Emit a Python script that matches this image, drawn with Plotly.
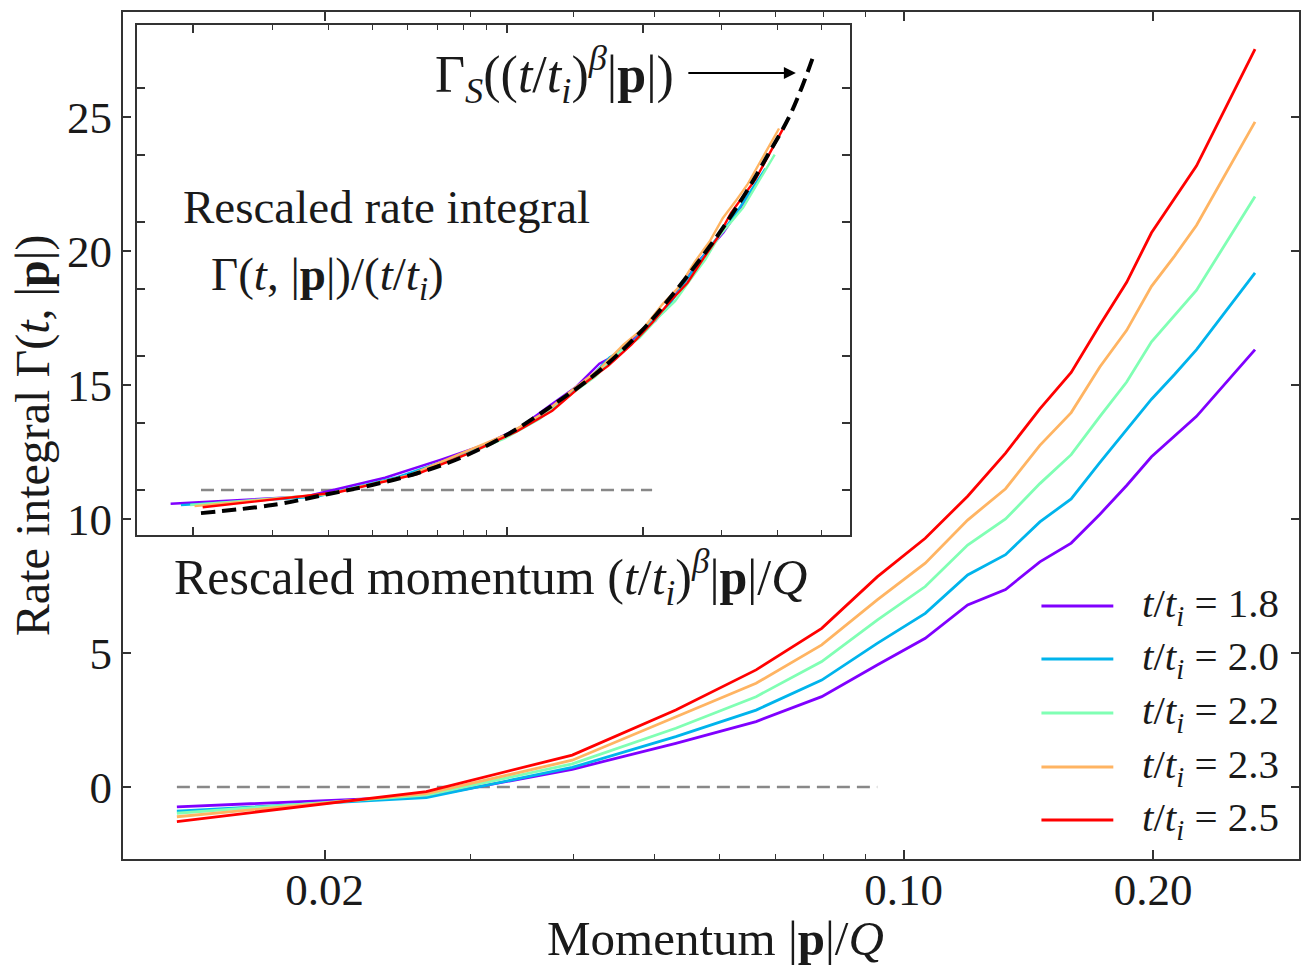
import numpy as np
import plotly.graph_objects as go

# ---------------- data ----------------
momentum = [0.01327, 0.02654, 0.03981, 0.05308, 0.06635, 0.07962, 0.09289,
            0.10616, 0.11943, 0.1327, 0.14597, 0.15924, 0.17251, 0.18578,
            0.19905, 0.21232, 0.22559, 0.2654]
t_values = [1.8, 2.0, 2.2, 2.3, 2.5]
gamma_t18 = [-0.74, -0.35, 0.66, 1.63, 2.44, 3.37, 4.55, 5.55, 6.79, 7.37,
             8.40, 9.10, 10.18, 11.25, 12.32, 13.10, 13.83, 16.32]
gamma_t20 = [-0.90, -0.40, 0.73, 1.88, 2.87, 3.99, 5.36, 6.48, 7.91, 8.67,
             9.89, 10.75, 12.11, 13.32, 14.47, 15.40, 16.32, 19.18]
gamma_t22 = [-0.98, -0.30, 0.86, 2.19, 3.37, 4.68, 6.23, 7.48, 9.03, 10.00,
             11.32, 12.40, 13.83, 15.11, 16.61, 17.61, 18.54, 22.03]
gamma_t23 = [-1.11, -0.25, 1.00, 2.62, 3.87, 5.30, 6.98, 8.35, 9.96, 11.13,
             12.75, 13.97, 15.68, 17.04, 18.68, 19.82, 20.96, 24.82]
gamma_t25 = [-1.29, -0.17, 1.19, 2.87, 4.37, 5.92, 7.84, 9.28, 10.85, 12.46,
             14.11, 15.47, 17.25, 18.83, 20.68, 21.96, 23.18, 27.53]
gamma_series = [gamma_t18, gamma_t20, gamma_t22, gamma_t23, gamma_t25]
beta = 0.5

# scaling function Gamma_S (black dashed curve in the inset)
scaling_x = [0.0208, 0.030, 0.040, 0.050, 0.063, 0.080, 0.101, 0.128, 0.160,
             0.200, 0.241, 0.296, 0.339, 0.382, 0.424, 0.453, 0.481]
scaling_y = [-0.69, -0.45, -0.12, 0.15, 0.50, 1.00, 1.69, 2.59, 3.55,
             4.78, 6.07, 7.66, 8.86, 10.05, 11.14, 12.04, 12.99]

# horizontal zero reference lines
zero_main_x = [0.01327, 0.0929]
zero_inset_x = [0.0208, 0.21]

colors = ['#8000ff', '#00b4ec', '#80ffb4', '#ffb462', '#ff0000']

# ---------------- figure ----------------
FONT = 'Liberation Serif'
TXT = '#1a1a1a'
AX = '#333333'

fig = go.Figure()

# main panel
fig.add_trace(go.Scatter(x=zero_main_x, y=[0, 0], mode='lines',
                         line=dict(color='#888888', width=2.5, dash='13px,7px'),
                         xaxis='x', yaxis='y', showlegend=False, hoverinfo='skip'))
for t, g, c in zip(t_values, gamma_series, colors):
    fig.add_trace(go.Scatter(x=momentum, y=g, mode='lines',
                             line=dict(color=c, width=2.8),
                             name=f't/t_i = {t}', xaxis='x', yaxis='y',
                             showlegend=False))

# inset panel
fig.add_trace(go.Scatter(x=zero_inset_x, y=[0, 0], mode='lines',
                         line=dict(color='#888888', width=2.5, dash='13px,7px'),
                         xaxis='x2', yaxis='y2', showlegend=False, hoverinfo='skip'))
for t, g, c in zip(t_values, gamma_series, colors):
    xs = [p * t ** beta for p in momentum]
    ys = [v / t for v in g]
    fig.add_trace(go.Scatter(x=xs, y=ys, mode='lines',
                             line=dict(color=c, width=2.4),
                             xaxis='x2', yaxis='y2', showlegend=False))
fig.add_trace(go.Scatter(x=scaling_x, y=scaling_y, mode='lines',
                         line=dict(color='black', width=4, dash='14px,7px', shape='spline'),
                         xaxis='x2', yaxis='y2', showlegend=False))

# geometry (pixels)
W, H = 1301, 965
L, T, R, B = 123, 12, 0, 106
PW, PH = W - L - R, H - T - B


def px2x(px):
    return (px - L) / PW


def py2y(py):
    return (H - B - py) / PH


tickfont = dict(family=FONT, size=45, color=TXT)

fig.update_layout(
    width=W, height=H,
    margin=dict(l=L, r=R, t=T, b=B),
    paper_bgcolor='white', plot_bgcolor='white',
    font=dict(family=FONT, color=TXT),
    showlegend=False,
    xaxis=dict(type='log', range=[np.log10(0.011425), np.log10(0.2999)],
               domain=[0, 1], anchor='y',
               tickmode='array', tickvals=[0.02, 0.1, 0.2],
               ticktext=['0.02', '0.10', '0.20'],
               ticks='inside', ticklen=9, tickwidth=1.5, tickcolor=AX,
               showline=True, linecolor=AX, linewidth=2, mirror='ticks',
               showgrid=False, zeroline=False, tickfont=tickfont,
               ticklabelstandoff=-10,
               minor=dict(tickmode='array',
                          tickvals=[0.03, 0.04, 0.05, 0.06, 0.07, 0.08, 0.09],
                          ticks='inside', ticklen=5, tickwidth=1.2,
                          tickcolor=AX, showgrid=False)),
    yaxis=dict(range=[-2.687, 28.918], domain=[0, 1], anchor='x',
               tickmode='array', tickvals=[0, 5, 10, 15, 20, 25],
               ticks='inside', ticklen=8, tickwidth=1.5, tickcolor=AX,
               showline=True, linecolor=AX, linewidth=2, mirror='ticks',
               showgrid=False, zeroline=False, tickfont=tickfont,
               ticklabelstandoff=0),
    xaxis2=dict(type='log', range=[-1.8244, -0.2378],
                domain=[px2x(137), px2x(851)], anchor='y2',
                tickmode='array', tickvals=[0.02, 0.1, 0.2],
                showticklabels=False,
                ticks='inside', ticklen=8, tickwidth=1.5, tickcolor=AX,
                showline=True, linecolor=AX, linewidth=2, mirror='ticks',
                showgrid=False, zeroline=False,
                minor=dict(tickmode='array',
                           tickvals=[0.03, 0.04, 0.05, 0.06, 0.07, 0.08, 0.09,
                                     0.3, 0.4, 0.5],
                           ticks='inside', ticklen=5, tickwidth=1.2,
                           tickcolor=AX, showgrid=False)),
    yaxis2=dict(range=[-1.343, 13.881],
                domain=[py2y(535), py2y(25)], anchor='x2',
                tickmode='array', tickvals=[0, 2, 4, 6, 8, 10, 12],
                showticklabels=False,
                ticks='inside', ticklen=8, tickwidth=1.5, tickcolor=AX,
                showline=True, linecolor=AX, linewidth=2, mirror='ticks',
                showgrid=False, zeroline=False),
)

BIG = 47
ann = []
# axis titles of the main panel
ann.append(dict(text='Momentum |<b>p</b>|/<i>Q</i>', x=px2x(717), y=py2y(938),
                xref='paper', yref='paper', xanchor='center', yanchor='middle',
                showarrow=False, font=dict(family=FONT, size=49, color=TXT)))
ann.append(dict(text='Rate integral Γ(<i>t</i>, |<b>p</b>|)', x=px2x(33), y=py2y(435),
                xref='paper', yref='paper', xanchor='center', yanchor='middle',
                textangle=-90, showarrow=False,
                font=dict(family=FONT, size=48, color=TXT)))
# inset texts
ann.append(dict(text='Rescaled momentum (<i>t</i>/<i>t<sub>i</sub></i>)<sup><i>β</i></sup>|<b>p</b>|/<i>Q</i>',
                x=px2x(491), y=py2y(577), xref='paper', yref='paper',
                xanchor='center', yanchor='middle', showarrow=False,
                font=dict(family=FONT, size=50, color=TXT)))
ann.append(dict(text='Rescaled rate integral', x=px2x(181), y=py2y(207),
                xref='paper', yref='paper', xanchor='left', yanchor='middle',
                showarrow=False, font=dict(family=FONT, size=BIG, color=TXT)))
ann.append(dict(text='Γ(<i>t</i>, |<b>p</b>|)/(<i>t</i>/<i>t<sub>i</sub></i>)',
                x=px2x(209), y=py2y(277), xref='paper', yref='paper',
                xanchor='left', yanchor='middle', showarrow=False,
                font=dict(family=FONT, size=BIG, color=TXT)))
ann.append(dict(text='Γ<sub><i>S</i></sub>((<i>t</i>/<i>t<sub>i</sub></i>)<sup><i>β</i></sup>|<b>p</b>|)',
                x=px2x(677), y=py2y(75), xref='paper', yref='paper',
                xanchor='right', yanchor='middle', showarrow=False,
                font=dict(family=FONT, size=52, color=TXT)))
ann.append(dict(text='', x=px2x(797), y=py2y(73), xref='paper', yref='paper',
                ax=-109, ay=0, showarrow=True, arrowhead=2, arrowsize=1.2,
                arrowwidth=2, arrowcolor='black'))

# legend (drawn as line samples + labels)
shapes = []
legend_rows = [606, 659, 713, 767, 820]
for t, c, ry in zip(t_values, colors, legend_rows):
    shapes.append(dict(type='line', xref='paper', yref='paper',
                       x0=px2x(1043), x1=px2x(1115), y0=py2y(ry), y1=py2y(ry),
                       line=dict(color=c, width=2.8)))
    ann.append(dict(text=f'<i>t</i>/<i>t<sub>i</sub></i>\u00a0=\u00a0{t:.1f}',
                    x=px2x(1142), y=py2y(ry), xref='paper', yref='paper',
                    xanchor='left', yanchor='middle', showarrow=False,
                    font=dict(family=FONT, size=41, color=TXT)))

fig.update_layout(annotations=ann, shapes=shapes)

fig.write_html('out.html', config={'displayModeBar': False},
               post_script="document.body.style.margin='0';")
